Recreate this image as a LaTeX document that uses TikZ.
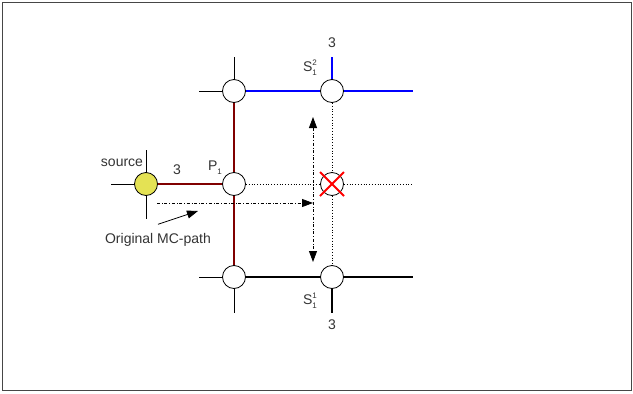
\documentclass[tikz,border=0pt]{standalone}
\usepackage{fontspec}
\setmainfont{Liberation Sans}
\usetikzlibrary{arrows.meta}
\definecolor{brn}{RGB}{128,0,0}
\definecolor{yel}{RGB}{228,226,84}
\definecolor{blu}{RGB}{0,0,255}
\definecolor{frm}{RGB}{70,70,70}
\newcommand{\idx}[2]{\rlap{\raisebox{6pt}{\fontsize{8}{8}\selectfont #1}}\raisebox{-4pt}{\fontsize{8}{8}\selectfont #2}}
\begin{document}
\begin{tikzpicture}[x=1pt,y=-1pt,font=\fontsize{14}{16}\selectfont,
  junc/.style={circle,draw,fill=white,minimum size=23pt,inner sep=0pt,line width=0.8pt},
  stub/.style={line width=0.8pt},
  heavy/.style={line width=2.8pt},
  dotl/.style={dotted,line width=0.8pt},
  dda/.style={dash dot,line width=0.8pt},
  tip/.style={-{Triangle[length=11pt,width=8pt]}},
  lbl/.style={inner sep=0pt,text=black!80}]
\useasboundingbox (0,0) rectangle (633,394);
\draw[frm,line width=1pt] (2,2) rectangle (631,390);
% junctions
\node[junc] (tl) at (234,91) {};
\node[junc] (tr) at (332,91) {};
\node[junc] (p1) at (234,184) {};
\node[junc] (xx) at (332,184) {};
\node[junc] (bl) at (234,277) {};
\node[junc] (br) at (332,277) {};
\node[junc,fill=yel] (src) at (146,184) {};
% free ends
\coordinate (tlL) at (199,91);
\coordinate (tlU) at (234,57);
\coordinate (trU) at (332,57);
\coordinate (trR) at (413,91);
\coordinate (srcL) at (111,184);
\coordinate (srcU) at (146,150);
\coordinate (srcD) at (146,219);
\coordinate (blL) at (199,277);
\coordinate (blD) at (234,313);
\coordinate (brR) at (413,277);
\coordinate (brD) at (332,313);
\coordinate (xxR) at (413,184);
% stubs
\draw[stub] (tl) -- (tlL);
\draw[stub] (tl) -- (tlU);
\draw[stub] (src) -- (srcL);
\draw[stub] (src) -- (srcU);
\draw[stub] (src) -- (srcD);
\draw[stub] (bl) -- (blL);
\draw[stub] (bl) -- (blD);
% heavy
\draw[heavy,blu] (tl) -- (tr);
\draw[heavy,blu] (tr) -- (trR);
\draw[heavy,blu] (tr) -- (trU);
\draw[heavy,brn] (src) -- (p1);
\draw[heavy,brn] (tl) -- (p1);
\draw[heavy,brn] (p1) -- (bl);
\draw[heavy] (bl) -- (br);
\draw[heavy] (br) -- (brR);
\draw[heavy] (br) -- (brD);
% dotted
\draw[dotl] (p1) -- (xx);
\draw[dotl] (xx) -- (xxR);
\draw[dotl] (tr) -- (xx);
\draw[dotl] (xx) -- (br);
% red cross
\draw[red,line width=1.8pt] ([shift={(-12,-12)}]xx.center) -- ([shift={(12,12)}]xx.center);
\draw[red,line width=1.8pt] ([shift={(12,-12)}]xx.center) -- ([shift={(-12,12)}]xx.center);
% dash-dot arrows
\coordinate (h0) at (157,203);
\coordinate (h1) at (313,203);
\coordinate (v0) at (313,117);
\coordinate (v1) at (313,262);
\draw[dda,tip] (h0) -- (h1);
\draw[dda,{Triangle[length=11pt,width=8pt]}-{Triangle[length=11pt,width=8pt]}] (v0) -- (v1);
% labels
\node[lbl] (lsrc) at (122,163) {source};
\node[lbl] (l3a) at (177,170) {3};
\node[lbl] (lp1) at (215,168) {P\idx{}{1}};
\node[lbl] (l3t) at (332,43) {3};
\node[lbl] (ls2) at (310,68) {S\idx{2}{1}};
\node[lbl] (ls1) at (310,301) {S\idx{1}{1}};
\node[lbl] (l3b) at (332,325) {3};
\node[lbl] (lmc) at (158,240) {Original MC-path};
\coordinate (mcT) at (198,211);
\draw[stub,tip] ([shift={(0,-9)}]lmc.north) -- (mcT);
\end{tikzpicture}
\end{document}
